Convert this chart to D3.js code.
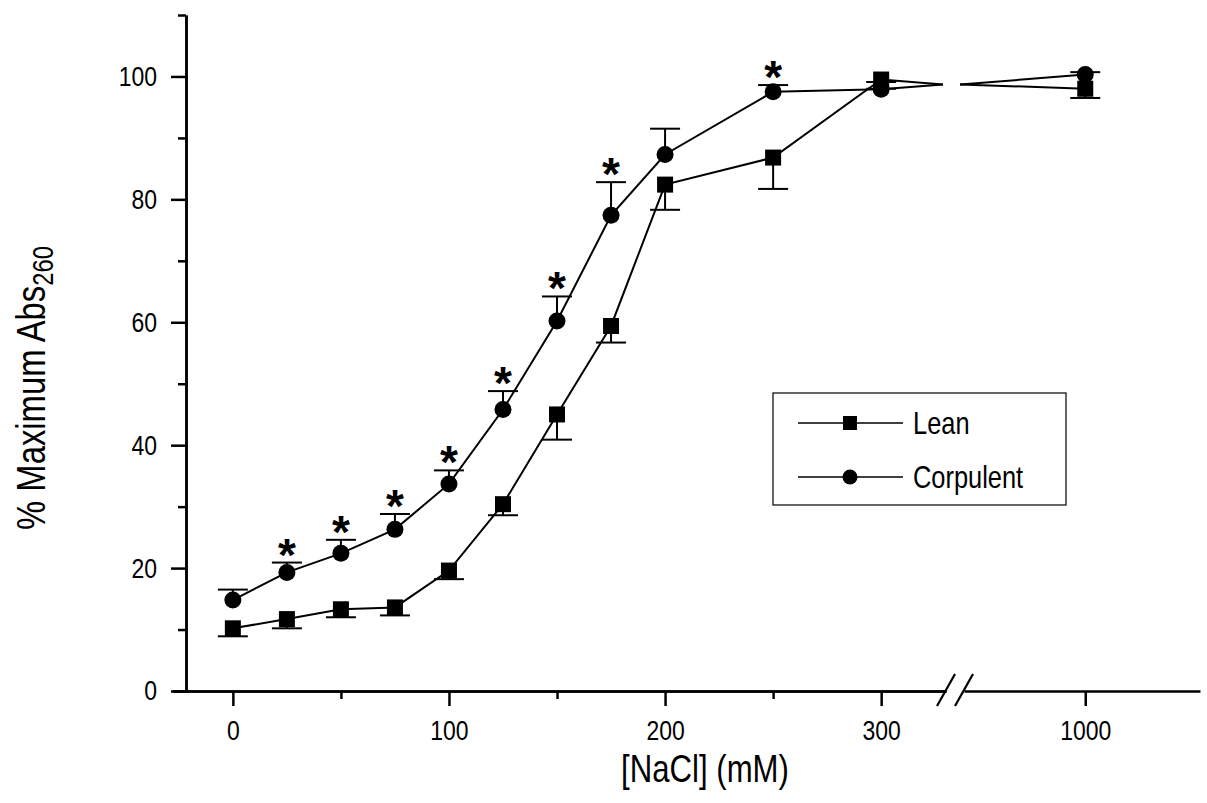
<!DOCTYPE html>
<html>
<head>
    <meta charset="utf-8">
    <title>% Maximum Abs260 vs NaCl</title>
    <script type="text/javascript" src="https://cdn.jsdelivr.net/npm/d3@7"></script>
    <style>
        body { margin: 0; background: #fff; }
        svg { display: block; }
        text { font-family: "Liberation Sans", Arial, sans-serif; fill: #000; }
        .axis path, .axis line { stroke: #000; stroke-width: 2.5px; }
        .axis text { font-size: 28px; }
    </style>
</head>
<body>
<script type="text/javascript">
    // values
    var nacl = [0, 25, 50, 75, 100, 125, 150, 175, 200, 250, 300, 1000];
    var leanMean  = [10.2, 11.7, 13.3, 13.6, 19.6, 30.4, 45.0, 59.4, 82.4, 86.8, 99.5, 98.0];
    var leanLower = [8.9, 10.2, 12.0, 12.3, 18.2, 28.6, 40.9, 56.7, 78.3, 81.7, 98.0, 96.5];
    var corpMean  = [14.8, 19.3, 22.4, 26.3, 33.7, 45.8, 60.2, 77.4, 87.3, 97.5, 97.9, 100.3];
    var corpUpper = [16.5, 20.9, 24.6, 28.8, 35.9, 48.8, 64.2, 82.8, 91.5, 98.6, 99.1, 100.7];
    var significant = [25, 50, 75, 100, 125, 150, 175, 250];
    var breakLevel = 98.7;   // where both lines meet at the axis break

    var xMajor = [0, 100, 200, 300];
    var xMinor = [50, 150, 250];
    var xMajorHigh = [1000];
    var yMajor = [0, 20, 40, 60, 80, 100];
    var yMinor = [10, 30, 50, 70, 90, 110];

    var width = 1207,
        height = 803,
        squeeze = 0.82;   // no narrow font installed, so squash the sans

    var svg = d3.select("body").append("svg")
        .attr("width", width)
        .attr("height", height);

    // broken x axis: two linear pieces
    var breakLo = 330, breakHi = 944;
    var xA = d3.scaleLinear().domain([-27.7, breakLo]).range([173, 946]);
    var xB = d3.scaleLinear().domain([breakHi, 1053]).range([964, 1200]);
    var x = function (v) { return v <= breakLo ? xA(v) : xB(v); };

    var y = d3.scaleLinear().domain([0, 110]).range([691, 15]);
    var yAxisX = 186;

    // axes
    var gxA = svg.append("g").attr("class", "axis")
        .attr("transform", "translate(0," + y(0) + ")")
        .call(d3.axisBottom(xA).tickValues(xMajor).tickSize(15).tickSizeOuter(0).tickFormat(d3.format("d")));
    svg.append("g").attr("class", "axis")
        .attr("transform", "translate(0," + y(0) + ")")
        .call(d3.axisBottom(xA).tickValues(xMinor).tickSize(8).tickSizeOuter(0).tickFormat(""));
    var gxB = svg.append("g").attr("class", "axis")
        .attr("transform", "translate(0," + y(0) + ")")
        .call(d3.axisBottom(xB).tickValues(xMajorHigh).tickSize(15).tickSizeOuter(0).tickFormat(d3.format("d")));
    [gxA, gxB].forEach(function (g) {
        g.selectAll("text").attr("y", 49).attr("dy", 0)
            .attr("transform", "scale(" + squeeze + ",1)");
    });

    var gy = svg.append("g").attr("class", "axis")
        .attr("transform", "translate(" + yAxisX + ",0)")
        .call(d3.axisLeft(y).tickValues(yMajor).tickSize(15).tickSizeOuter(0));
    gy.selectAll("text").attr("x", -29 / squeeze)
        .attr("transform", "scale(" + squeeze + ",1)");
    svg.append("g").attr("class", "axis")
        .attr("transform", "translate(" + yAxisX + ",0)")
        .call(d3.axisLeft(y).tickValues(yMinor).tickSize(8).tickSizeOuter(0).tickFormat(""));

    // break marks
    var bx = (xA.range()[1] + xB.range()[0]) / 2;
    [-9, 9].forEach(function (off) {
        svg.append("line")
            .attr("x1", bx + off - 9).attr("y1", y(0) + 15)
            .attr("x2", bx + off + 9).attr("y2", y(0) - 17)
            .attr("stroke", "#000").attr("stroke-width", 2.2);
    });

    // axis titles
    svg.append("text")
        .attr("transform", "translate(705,782) scale(" + squeeze + ",1)")
        .attr("text-anchor", "middle")
        .style("font-size", "38px")
        .text("[NaCl] (mM)");

    var yt = svg.append("text")
        .attr("transform", "translate(45,388) rotate(-90) scale(" + squeeze + ",1)")
        .attr("text-anchor", "middle")
        .style("font-size", "40px");
    yt.append("tspan").text("% Maximum Abs");
    yt.append("tspan").attr("dy", 8).style("font-size", "29px").text("260");

    // lines (drawn to the break and resumed after it)
    function seriesLines(vals) {
        var low = [], high = [];
        nacl.forEach(function (c, i) {
            if (c <= breakLo) low.push([x(c), y(vals[i])]);
            else high.push([x(c), y(vals[i])]);
        });
        low.push([xA(breakLo) - 3, y(breakLevel)]);
        high.unshift([xB(breakHi) - 4, y(breakLevel)]);
        return [low, high];
    }
    var line = d3.line();
    [leanMean, corpMean].forEach(function (vals) {
        seriesLines(vals).forEach(function (pts) {
            svg.append("path")
                .attr("d", line(pts))
                .attr("fill", "none")
                .attr("stroke", "#000")
                .attr("stroke-width", 2);
        });
    });

    // error bars
    var capW = 15;
    function errorBars(mean, end) {
        var g = svg.append("g").attr("stroke", "#000").attr("stroke-width", 2);
        nacl.forEach(function (c, i) {
            var cx = x(c);
            g.append("line").attr("x1", cx).attr("x2", cx)
                .attr("y1", y(mean[i])).attr("y2", y(end[i]));
            g.append("line").attr("x1", cx - capW).attr("x2", cx + capW)
                .attr("y1", y(end[i])).attr("y2", y(end[i]));
        });
    }
    errorBars(leanMean, leanLower);
    errorBars(corpMean, corpUpper);

    // markers
    var sq = 16, rad = 8.5;
    svg.selectAll("rect.lean")
        .data(nacl).enter().append("rect")
        .attr("class", "lean")
        .attr("x", function (d) { return x(d) - sq / 2; })
        .attr("y", function (d, i) { return y(leanMean[i]) - sq / 2; })
        .attr("width", sq).attr("height", sq)
        .attr("fill", "#000");
    svg.selectAll("circle.corp")
        .data(nacl).enter().append("circle")
        .attr("class", "corp")
        .attr("cx", function (d) { return x(d); })
        .attr("cy", function (d, i) { return y(corpMean[i]); })
        .attr("r", rad)
        .attr("fill", "#000");

    // significance stars
    svg.selectAll("text.star")
        .data(significant).enter().append("text")
        .attr("class", "star")
        .attr("x", function (d) { return x(d); })
        .attr("y", function (d) { return y(corpUpper[nacl.indexOf(d)]) + 8; })
        .attr("text-anchor", "middle")
        .style("font-size", "46px")
        .style("font-weight", "bold")
        .text("*");

    // legend
    var lg = svg.append("g");
    lg.append("rect")
        .attr("x", 773).attr("y", 393).attr("width", 293).attr("height", 112)
        .attr("fill", "#fff").attr("stroke", "#000").attr("stroke-width", 1.2);
    var legendRows = [{name: "Lean", shape: "square", cy: 423},
                      {name: "Corpulent", shape: "circle", cy: 477}];
    legendRows.forEach(function (r) {
        lg.append("line").attr("x1", 798).attr("x2", 903)
            .attr("y1", r.cy).attr("y2", r.cy)
            .attr("stroke", "#000").attr("stroke-width", 1.3);
        if (r.shape === "square") {
            lg.append("rect").attr("x", 850 - 7).attr("y", r.cy - 7)
                .attr("width", 14).attr("height", 14).attr("fill", "#000");
        } else {
            lg.append("circle").attr("cx", 850).attr("cy", r.cy).attr("r", 7.5).attr("fill", "#000");
        }
        lg.append("text")
            .attr("transform", "translate(913," + (r.cy + 11) + ") scale(" + squeeze + ",1)")
            .style("font-size", "31px")
            .text(r.name);
    });
</script>
</body>
</html>
